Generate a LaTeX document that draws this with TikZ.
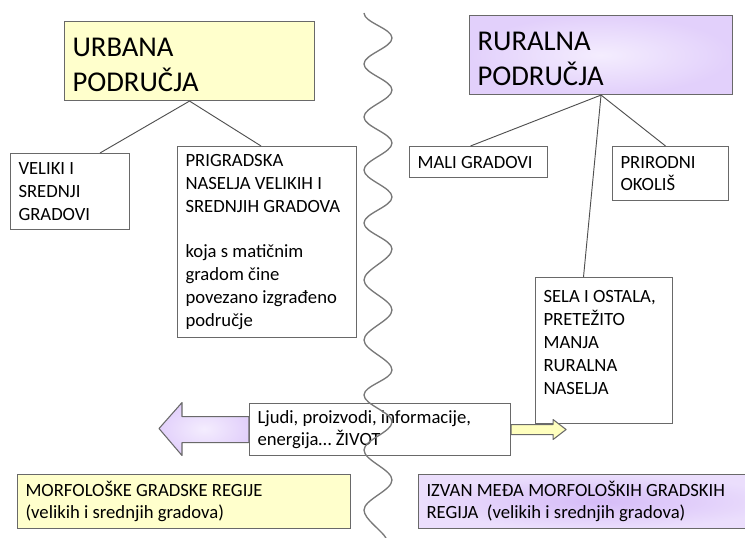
\documentclass[tikz,border=0pt]{standalone}
\usepackage{fontspec}
\setmainfont{Carlito}
\definecolor{paleyellow}{RGB}{255,255,204}
\definecolor{arrowyellow}{RGB}{255,255,190}
\definecolor{lav}{RGB}{226,208,251}
\definecolor{lavlight}{RGB}{244,237,254}
\definecolor{lavdark}{RGB}{214,188,248}
\definecolor{boxgray}{RGB}{105,105,105}
\definecolor{linegray}{RGB}{80,80,80}
\definecolor{wavegray}{RGB}{120,120,120}
\tikzset{box/.style={draw=boxgray, line width=0.8pt, anchor=north west, align=left,
		inner xsep=6pt, inner ysep=2pt, font=\fontsize{14}{17.1}\selectfont,
		execute at begin node={\spaceskip=0pt\xspaceskip=0pt}},
	%titles are the same boxes, larger text
	titlebox/.style={box, font=\fontsize{21.5}{26.3}\selectfont},
	branch/.style={draw=linegray, line width=0.7pt},
	blockarrow/.style={draw=boxgray, line width=0.8pt, line join=round},
	wave/.style={draw=wavegray, line width=1pt, looseness=0.65}}

\begin{document}
\begin{tikzpicture}[x=0.75pt, y=-0.75pt]
		\useasboundingbox (0,0) rectangle (745,538);
		% top boxes
		\node[titlebox, fill=paleyellow, text width=175.5pt, minimum height=59.25pt] (urban) at (64,21) {\rule{0pt}{19pt}URBANA\\PODRUČJA};
		\node[titlebox, shade, inner color=lavlight, outer color=lav, text width=185.25pt, minimum height=59.25pt] (rural) at (469,15) {\rule{0pt}{19pt}RURALNA\\PODRUČJA};

		% urban side
		\node[box, text width=77.25pt, minimum height=57pt] (big) at (10,153) {VELIKI I\\SREDNJI\\GRADOVI};
		\node[box, text width=122.25pt, minimum height=143.25pt] (suburb) at (177,146)
			{PRIGRADSKA\\NASELJA VELIKIH I\\SREDNJIH GRADOVA\\[17.1pt]koja s matičnim\\gradom čine\\povezano izgrađeno\\područje};

		% rural side
		\node[box, text width=91.5pt, minimum height=23.25pt] (small) at (409,146) {MALI GRADOVI};
		\node[box, text width=75pt, minimum height=40.5pt] (nature) at (612,146) {PRIRODNI\\OKOLIŠ};
		\node[box, text width=90.75pt, minimum height=109.5pt] (villages) at (535,277)
			{SELA I OSTALA,\\PRETEŽITO\\MANJA\\RURALNA\\NASELJA\\[-5pt]\mbox{}};

		\draw[branch] (urban.south) -- ([xshift=67.5pt]big.north west);
		\draw[branch] (urban.south) -- ([xshift=-4.5pt]suburb.north);
		\draw[branch] (rural.south) -- ([xshift=-6pt]small.north);
		\draw[branch] (rural.south) -- ([xshift=-3.75pt]nature.north);
		\draw[branch] (rural.south) -- ([xshift=-15.4pt]villages.north);

		% flows between the two sides
		\node[box, fill=white, text width=183.75pt, minimum height=39pt] (flow) at (249,403)
			{Ljudi, proizvodi, informacije,\\energija… ŽIVOT};
		\draw[blockarrow, shade, inner color=lavlight, outer color=lav] ([shift={(0,-13)}]flow.west)
			-- ++(-67,0) -- ++(0,-14) -- ++(-23,26) -- ++(23,27) -- ++(0,-13) -- ++(67,0) -- cycle;
		\draw[blockarrow, fill=arrowyellow] ([shift={(0,-5)}]flow.east)
			-- ++(42,0) -- ++(0,-5) -- ++(13,10) -- ++(-13,10) -- ++(0,-5) -- ++(-42,0) -- cycle;

		% bottom boxes
		\node[box, fill=paleyellow, text width=237.75pt, minimum height=40.5pt] (morph) at (17,474)
			{MORFOLOŠKE GRADSKE REGIJE\\(velikih i srednjih gradova)};
		\node[box, shade, inner color=lavdark, outer color=lav!70!white, text width=258pt, minimum height=40.5pt] (outside) at (418,474)
			{IZVAN MEĐA MORFOLOŠKIH GRADSKIH\\REGIJA\ \ (velikih i srednjih gradova)};

		% border between urban and rural
		\draw[wave] (364,13)
			\foreach \y/\x in {38/392, 64/364, 90/392, 117/364, 143/392, 170/364, 197/392, 223/364, 249/392,
				280/364, 310/392, 340/364, 370/392, 395/364, 422/392, 450/364, 480/392, 510/364}
			{to[out=-90, in=90] (\x,\y)}
			to[out=-90, in=120] (386,538);
%		\draw[help lines] (0,0) grid[step=50] (745,538);
	\end{tikzpicture}
\end{document}
